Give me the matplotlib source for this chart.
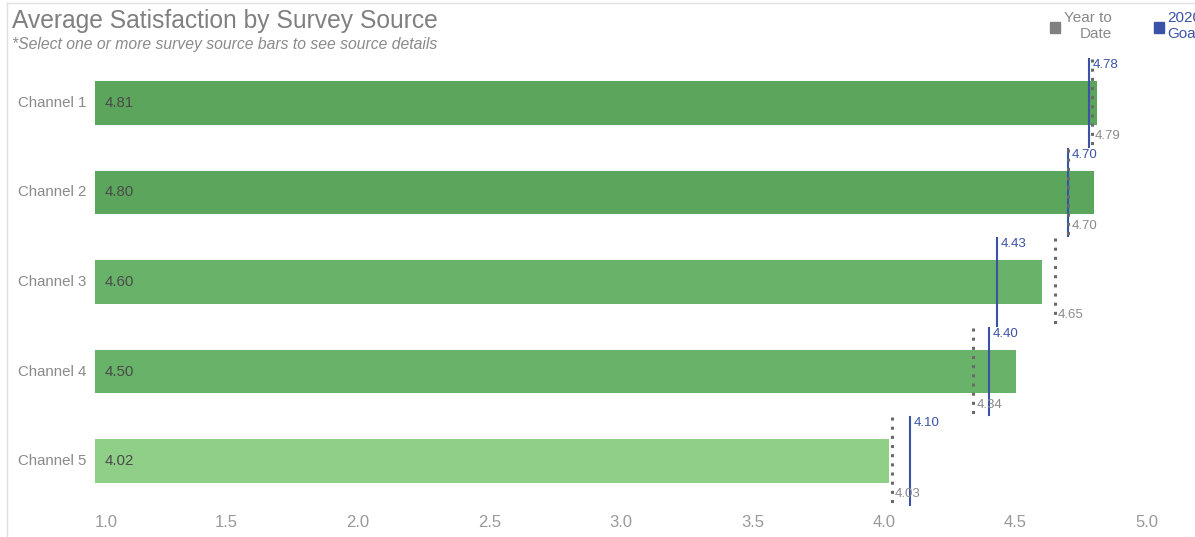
import matplotlib.pyplot as plt
from matplotlib.patches import Rectangle
from matplotlib.lines import Line2D
from matplotlib.transforms import offset_copy

plt.rcParams["font.family"] = ["Liberation Sans", "DejaVu Sans"]

channels = ["Channel 1", "Channel 2", "Channel 3", "Channel 4", "Channel 5"]
avg_score = [4.81, 4.80, 4.60, 4.50, 4.02]
ytd = [4.79, 4.70, 4.65, 4.34, 4.03]
goal_2020 = [4.78, 4.70, 4.43, 4.40, 4.10]
x_ticks = [1.0, 1.5, 2.0, 2.5, 3.0, 3.5, 4.0, 4.5, 5.0]

bar_colors = ["#5ca55c", "#5ca55c", "#69b269", "#69b269", "#90cf88"]
blue = "#3a53a8"
grey_dot = "#6a6a6a"

W, H = 1195, 537
fig = plt.figure(figsize=(W / 100, H / 100), dpi=100)
ax = fig.add_axes([95 / W, 1 - 505.75 / H, 1 - 95 / W, 447.5 / H])

y = list(range(len(channels)))
ax.barh(y, [v - 1.0 for v in avg_score], left=1.0, height=0.49,
        color=bar_colors, zorder=1)

label_tr = offset_copy(ax.get_yaxis_transform(), fig=fig, x=-9, y=0, units="dots")

for i in y:
    ax.text(1.035, i, f"{avg_score[i]:.2f}", va="center", ha="left",
            fontsize=10.8, color="#4a4a4a", zorder=3)
    ax.text(0, i, channels[i], transform=label_tr,
            va="center", ha="right", fontsize=10.8, color="#8a8a8a")

    # 2020 goal: solid blue line, label at the top
    ax.plot([goal_2020[i], goal_2020[i]], [i - 0.49, i + 0.49],
            color=blue, lw=1.5, zorder=4)
    ax.text(goal_2020[i] + 0.012, i - 0.42, f"{goal_2020[i]:.2f}",
            color=blue, fontsize=9.5, va="center", ha="left", zorder=5)

    # year to date: dotted grey line, label at the bottom
    ax.plot([ytd[i], ytd[i]], [i - 0.49, i + 0.49], color=grey_dot,
            lw=2.2, linestyle=(0, (1, 2.0)), dash_capstyle="butt", zorder=4)
    ax.text(ytd[i] + 0.012, i + 0.37, f"{ytd[i]:.2f}",
            color="#8a8a8a", fontsize=9.5, va="center", ha="left", zorder=5)

ax.set_xlim(1.0, 1.0 + (W - 95) / 263.0)
ax.set_ylim(4.5, -0.5)
ax.set_xticks(x_ticks)
ax.set_xticklabels([f"{t:.1f}" for t in x_ticks], fontsize=12, color="#999999")
ax.get_xticklabels()[0].set_horizontalalignment("left")
ax.tick_params(axis="x", length=0, pad=7)
ax.set_yticks([])
for s in ax.spines.values():
    s.set_visible(False)

fig.text(12 / W, 1 - 21 / H, "Average Satisfaction by Survey Source",
         fontsize=17.7, color="#808080", va="center", ha="left")
fig.text(12 / W, 1 - 44 / H,
         "*Select one or more survey source bars to see source details",
         fontsize=11.3, color="#8a8a8a", style="italic", va="center", ha="left")

# legend (the right-hand entry runs off the edge, as in the original)
fig.patches.append(Rectangle((1050 / W, 1 - 33 / H), 10 / W, 11 / H,
                             transform=fig.transFigure, color="#808080"))
fig.text(1112 / W, 1 - 26 / H, "Year to\nDate", fontsize=11, color="#888888",
         ha="right", va="center", linespacing=1.15)
fig.patches.append(Rectangle((1154 / W, 1 - 33 / H), 10 / W, 11 / H,
                             transform=fig.transFigure, color=blue))
fig.text(1167 / W, 1 - 26 / H, "2020\nGoal", fontsize=11, color=blue,
         ha="left", va="center", linespacing=1.15)

# light frame at top and left
fig.add_artist(Line2D([7 / W, 7 / W], [0, 1 - 3 / H], color="#e0e0e0", lw=1))
fig.add_artist(Line2D([7 / W, 1], [1 - 3 / H, 1 - 3 / H], color="#e0e0e0", lw=1))

fig.savefig("out.png", dpi=100)
